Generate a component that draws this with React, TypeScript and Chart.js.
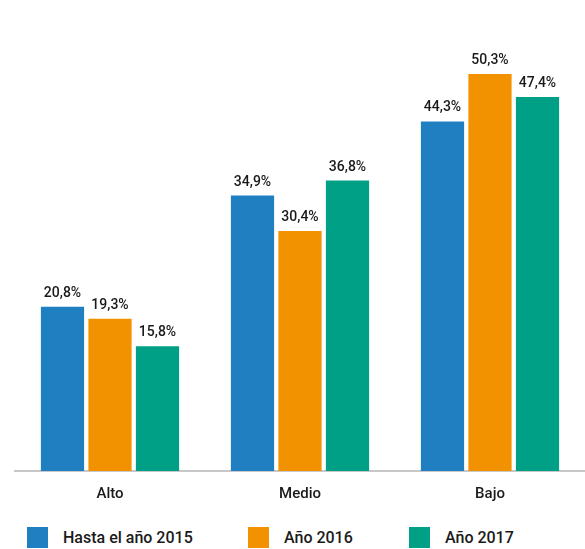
import React, { useEffect, useRef } from "react";
import { Chart, registerables } from "chart.js";

Chart.register(...registerables);

const categories = ["Alto", "Medio", "Bajo"];
const seriesNames = ["Hasta el año 2015", "Año 2016", "Año 2017"];
const hasta2015 = [20.8, 34.9, 44.3];
const ano2016 = [19.3, 30.4, 50.3];
const ano2017 = [15.8, 36.8, 47.4];
const colors = ["#1f7fc1", "#f39200", "#00a086"];

const FONT = "Roboto, 'DejaVu Sans', sans-serif";

const labelPlugin = {
  id: "barLabels",
  afterDatasetsDraw(chart: any) {
    const ctx = chart.ctx;
    ctx.save();
    ctx.font = `500 14px ${FONT}`;
    ctx.fillStyle = "#1a1a1a";
    ctx.textAlign = "center";
    ctx.textBaseline = "alphabetic";
    chart.data.datasets.forEach((ds: any, i: number) => {
      const meta = chart.getDatasetMeta(i);
      meta.data.forEach((bar: any, j: number) => {
        const v = ds.data[j] as number;
        ctx.fillText(v.toFixed(1).replace(".", ",") + "%", bar.x, bar.y - 10);
      });
    });
    ctx.restore();
  },
};

export default function App() {
  const ref = useRef<HTMLCanvasElement>(null);
  useEffect(() => {
    if (!ref.current) return;
    const data = [hasta2015, ano2016, ano2017];
    const chart = new Chart(ref.current, {
      type: "bar",
      data: {
        labels: categories,
        datasets: seriesNames.map((name, i) => ({
          label: name,
          data: data[i],
          backgroundColor: colors[i],
          borderWidth: 0,
          categoryPercentage: 0.75,
          barPercentage: 0.91,
        })),
      },
      options: {
        animation: false,
        responsive: false,
        maintainAspectRatio: false,
        layout: { padding: { top: 37, left: 15, right: 0, bottom: 8 } },
        plugins: {
          legend: { display: false },
          tooltip: { enabled: false },
        },
        scales: {
          x: {
            grid: { display: false, drawTicks: false },
            border: { display: true, color: "#c8c8c8", width: 2 },
            ticks: {
              color: "#1a1a1a",
              font: { family: FONT, size: 15, weight: "500" },
              padding: 14,
            },
          },
          y: {
            display: false,
            min: 0,
            max: 55,
          },
        },
      },
      plugins: [labelPlugin],
    });
    return () => chart.destroy();
  }, []);

  return (
    <div style={{ position: "fixed", left: 0, top: 0, width: 585, height: 549, background: "#fff" }}>
      <canvas ref={ref} width={585} height={525} style={{ display: "block" }} />
      {seriesNames.map((name, i) => (
        <div
          key={name}
          style={{
            position: "absolute",
            top: 527,
            left: [27, 248, 409][i],
            display: "flex",
            alignItems: "center",
            fontFamily: FONT,
            fontWeight: 500,
            fontSize: 16,
            color: "#1a1a1a",
            whiteSpace: "nowrap",
          }}
        >
          <span style={{ width: 21, height: 21, background: colors[i], display: "inline-block", marginRight: 15 }} />
          <span style={{ lineHeight: "21px" }}>{name}</span>
        </div>
      ))}
    </div>
  );
}
